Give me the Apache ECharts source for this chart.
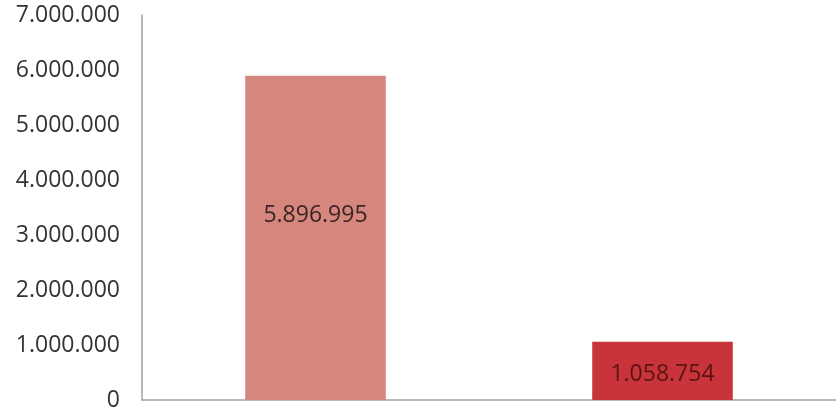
<!DOCTYPE html>
<html>
<head>
<meta charset="utf-8">
<script src="https://cdn.jsdelivr.net/npm/echarts@6/dist/echarts.min.js"></script>
<style>html,body{margin:0;padding:0;background:#fff;}#c{width:836px;height:417px;}</style>
</head>
<body>
<div id="c"></div>
<script>
var categories = ['A', 'B'];
var values = [5896995, 1058754];
var barColors = ['#d6877d', '#c8343a'];
var labelColors = ['#3a2424', '#5a1414'];
var labelOffsets = [[0, -22], [0, 4]];
var yTicks = [0, 1000000, 2000000, 3000000, 4000000, 5000000, 6000000, 7000000];

function fmt(v) {
  return String(v).replace(/\B(?=(\d{3})+(?!\d))/g, '.');
}

var chart = echarts.init(document.getElementById('c'));
chart.setOption({
  animation: false,
  backgroundColor: '#fff',
  grid: { left: 142, right: -7, top: 15, bottom: 17, containLabel: false },
  xAxis: {
    type: 'category',
    data: categories,
    axisLine: { show: true, lineStyle: { color: '#a0a0a0', width: 1.5 } },
    axisTick: { show: false },
    axisLabel: { show: false }
  },
  yAxis: {
    type: 'value',
    min: yTicks[0],
    max: yTicks[yTicks.length - 1],
    interval: 1000000,
    axisLine: { show: true, lineStyle: { color: '#a0a0a0', width: 1.5 } },
    axisTick: { show: false },
    splitLine: { show: false },
    axisLabel: {
      formatter: function (v) { return fmt(v); },
      color: '#333',
      fontSize: 23,
      fontFamily: 'Open Sans',
      margin: 22
    }
  },
  series: [{
    type: 'bar',
    data: values.map(function (v, i) {
      return {
        value: v,
        itemStyle: { color: barColors[i] },
        label: { color: labelColors[i], offset: labelOffsets[i] }
      };
    }),
    barWidth: '40.5%',
    label: {
      show: true,
      position: 'inside',
      formatter: function (p) { return fmt(p.value); },
      fontSize: 23,
      fontFamily: 'Open Sans'
    }
  }]
});
</script>
</body>
</html>
